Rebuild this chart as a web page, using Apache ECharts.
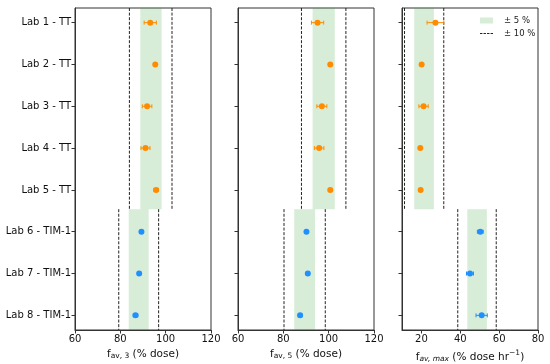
<!DOCTYPE html>
<html><head><meta charset="utf-8">
<script src="https://cdn.jsdelivr.net/npm/echarts@6/dist/echarts.min.js"></script>
<style>html,body{margin:0;padding:0;background:#fff}#c{width:550px;height:364px}</style>
</head><body><div id="c"></div>
<script>
// ---------- data ----------
const categories = ['Lab 1 - TT','Lab 2 - TT','Lab 3 - TT','Lab 4 - TT','Lab 5 - TT','Lab 6 - TIM-1','Lab 7 - TIM-1','Lab 8 - TIM-1'];
const labGroup = [0,0,0,0,0,1,1,1]; // 0 = TT, 1 = TIM-1
const yTickValues = [0,1,2,3,4,5,6,7];

const fav3    = [93.2, 95.4, 91.8, 91.1, 95.8, 89.3, 88.3, 86.7];
const fav3Err = [2.7, 0, 2.1, 2.0, 1.0, 0, 0.7, 1.0];
const fav5    = [95.1, 100.7, 97.0, 95.8, 100.7, 90.2, 90.8, 87.4];
const fav5Err = [2.7, 0, 2.2, 2.1, 0.8, 0, 0.7, 0.8];
const favMax    = [27.2, 20.1, 21.1, 19.4, 19.6, 50.3, 45.0, 51.0];
const favMaxErr = [4.3, 0, 2.4, 0, 0.6, 1.5, 1.8, 2.9];

// reference bands per group [TT, TIM-1]: [low, high]
const fav3Band5   = [[88.8, 98.2], [83.7, 92.5]];
const fav3Band10  = [[84.0, 102.8], [79.3, 96.9]];
const fav5Band5   = [[92.9, 102.7], [84.8, 94.0]];
const fav5Band10  = [[88.0, 107.6], [80.3, 98.5]];
const favMaxBand5  = [[16.3, 26.4], [43.6, 53.7]];
const favMaxBand10 = [[11.3, 31.5], [38.7, 58.5]];
// vertical extent (category units) of each group's band
const groupSpan = [[-0.35, 4.46], [4.46, 7.35]];

const xTicks3 = [60, 80, 100, 120];
const xTicks5 = [60, 80, 100, 120];
const xTicksMax = [20, 40, 60, 80];

// ---------- styles ----------
const FONT = 'DejaVu Sans';
const GREEN = 'rgba(46,160,44,0.19)';
const COLORS = ['#ff8c00', '#1e90ff'];
const AX = '#333';

const panels = [
  {vals: fav3, err: fav3Err, b5: fav3Band5, b10: fav3Band10, min: 60, max: 120, ticks: xTicks3, left: 75, gap: 15,
   name: '{f|f}{sub|av, 3}{f| (% dose)}'},
  {vals: fav5, err: fav5Err, b5: fav5Band5, b10: fav5Band10, min: 60, max: 120, ticks: xTicks5, left: 238, gap: 15,
   name: '{f|f}{sub|av, 5}{f| (% dose)}'},
  {vals: favMax, err: favMaxErr, b5: favMaxBand5, b10: favMaxBand10, min: 10, max: 80, ticks: xTicksMax, left: 402, gap: 12,
   name: '{f|f}{subi|av, max}{f| (% dose hr}{sup|−1}{f|)}'}
];

const grid = [], xAxis = [], yAxis = [], series = [];
const rich = {
  f: {fontFamily: FONT, fontSize: 10.5, color: '#111', verticalAlign: 'bottom', lineHeight: 14},
  sub: {fontFamily: FONT, fontSize: 7.5, color: '#111', verticalAlign: 'bottom', lineHeight: 8},
  subi: {fontFamily: FONT, fontSize: 7.5, fontStyle: 'italic', color: '#111', verticalAlign: 'bottom', lineHeight: 8},
  sup: {fontFamily: FONT, fontSize: 7.5, color: '#111', verticalAlign: 'top', lineHeight: 9}
};

panels.forEach((p, i) => {
  grid.push({left: p.left, width: 136, top: 8, height: 322, show: true, borderColor: AX, borderWidth: 1,
    backgroundColor: 'transparent', outerBoundsMode: 'none', containLabel: false});
  xAxis.push({
    type: 'value', gridIndex: i, min: p.min, max: p.max,
    splitLine: {show: false},
    axisLine: {show: true, onZero: false, lineStyle: {color: AX}},
    axisTick: {show: true, customValues: p.ticks, length: 3.5, lineStyle: {color: AX}},
    axisLabel: {customValues: p.ticks, fontFamily: FONT, fontSize: 10, color: '#111', margin: 4},
    name: p.name, nameLocation: 'middle', nameGap: p.gap,
    nameTextStyle: {rich: rich}
  });
  yAxis.push({
    type: 'value', gridIndex: i, min: -0.35, max: 7.35, inverse: true,
    splitLine: {show: false},
    axisLine: {show: true, onZero: false, lineStyle: {color: AX}},
    axisTick: {show: true, customValues: yTickValues, length: 3.5, lineStyle: {color: AX}},
    axisLabel: {show: i === 0, customValues: yTickValues, formatter: v => categories[Math.round(v)] || '',
      fontFamily: FONT, fontSize: 10, color: '#111', margin: 4}
  });
  // ±5 % bands
  series.push({
    type: 'custom', name: '± 5 %', xAxisIndex: i, yAxisIndex: i, silent: true, z: 1,
    itemStyle: {color: GREEN},
    data: p.b5.map((b, g) => [b[0], b[1], groupSpan[g][0], groupSpan[g][1]]),
    encode: {x: [0, 1], y: [2, 3]},
    renderItem: (params, api) => {
      const a = api.coord([api.value(0), api.value(2)]);
      const b = api.coord([api.value(1), api.value(3)]);
      return {type: 'rect', shape: {x: a[0], y: Math.min(a[1], b[1]), width: b[0] - a[0], height: Math.abs(b[1] - a[1])},
        style: {fill: GREEN}};
    }
  });
  // ±10 % dashed lines
  p.b10.forEach((b, g) => {
    b.forEach(xv => {
      series.push({
        type: 'line', name: '± 10 %', xAxisIndex: i, yAxisIndex: i, silent: true, z: 2,
        symbol: 'none', showSymbol: false, animation: false,
        lineStyle: {color: '#222', width: 1, type: [3, 1.6]},
        itemStyle: {color: '#222'},
        data: [[xv, groupSpan[g][0]], [xv, groupSpan[g][1]]]
      });
    });
  });
  // error bars
  series.push({
    type: 'custom', xAxisIndex: i, yAxisIndex: i, silent: true, z: 3,
    data: p.vals.map((v, k) => [v - p.err[k], v + p.err[k], k]),
    encode: {x: [0, 1], y: 2},
    renderItem: (params, api) => {
      const k = api.value(2);
      const lo = api.coord([api.value(0), k]);
      const hi = api.coord([api.value(1), k]);
      if (hi[0] - lo[0] < 0.5) return null;
      const c = COLORS[labGroup[k]];
      const st = {stroke: c, lineWidth: 1};
      return {type: 'group', children: [
        {type: 'line', shape: {x1: lo[0], y1: lo[1], x2: hi[0], y2: hi[1]}, style: st},
        {type: 'line', shape: {x1: lo[0], y1: lo[1] - 2, x2: lo[0], y2: lo[1] + 2}, style: st},
        {type: 'line', shape: {x1: hi[0], y1: hi[1] - 2, x2: hi[0], y2: hi[1] + 2}, style: st}
      ]};
    }
  });
  // markers
  series.push({
    type: 'scatter', xAxisIndex: i, yAxisIndex: i, z: 4, symbol: 'circle', symbolSize: 6, silent: true,
    data: p.vals.map((v, k) => ({value: [v, k], itemStyle: {color: COLORS[labGroup[k]], opacity: 1}}))
  });
});

const chart = echarts.init(document.getElementById('c'), null, {renderer: 'canvas'});
chart.setOption({
  animation: false,
  backgroundColor: '#fff',
  grid, xAxis, yAxis, series,
  legend: {
    orient: 'vertical', left: 475, top: 11, itemWidth: 13, itemHeight: 6, itemGap: 4,
    selectedMode: false, symbolKeepAspect: true,
    textStyle: {fontFamily: FONT, fontSize: 8.5, color: '#222', padding: [0, 0, 0, 6]},
    data: [
      {name: '± 5 %', icon: 'rect', itemStyle: {color: GREEN}},
      {name: '± 10 %', icon: 'path://M0,0H2.4V1H0Z M3.5,0H5.9V1H3.5Z M7,0H9.4V1H7Z M10.5,0H12.9V1H10.5Z',
       itemStyle: {color: '#222'}}
    ]
  }
});
</script></body></html>
